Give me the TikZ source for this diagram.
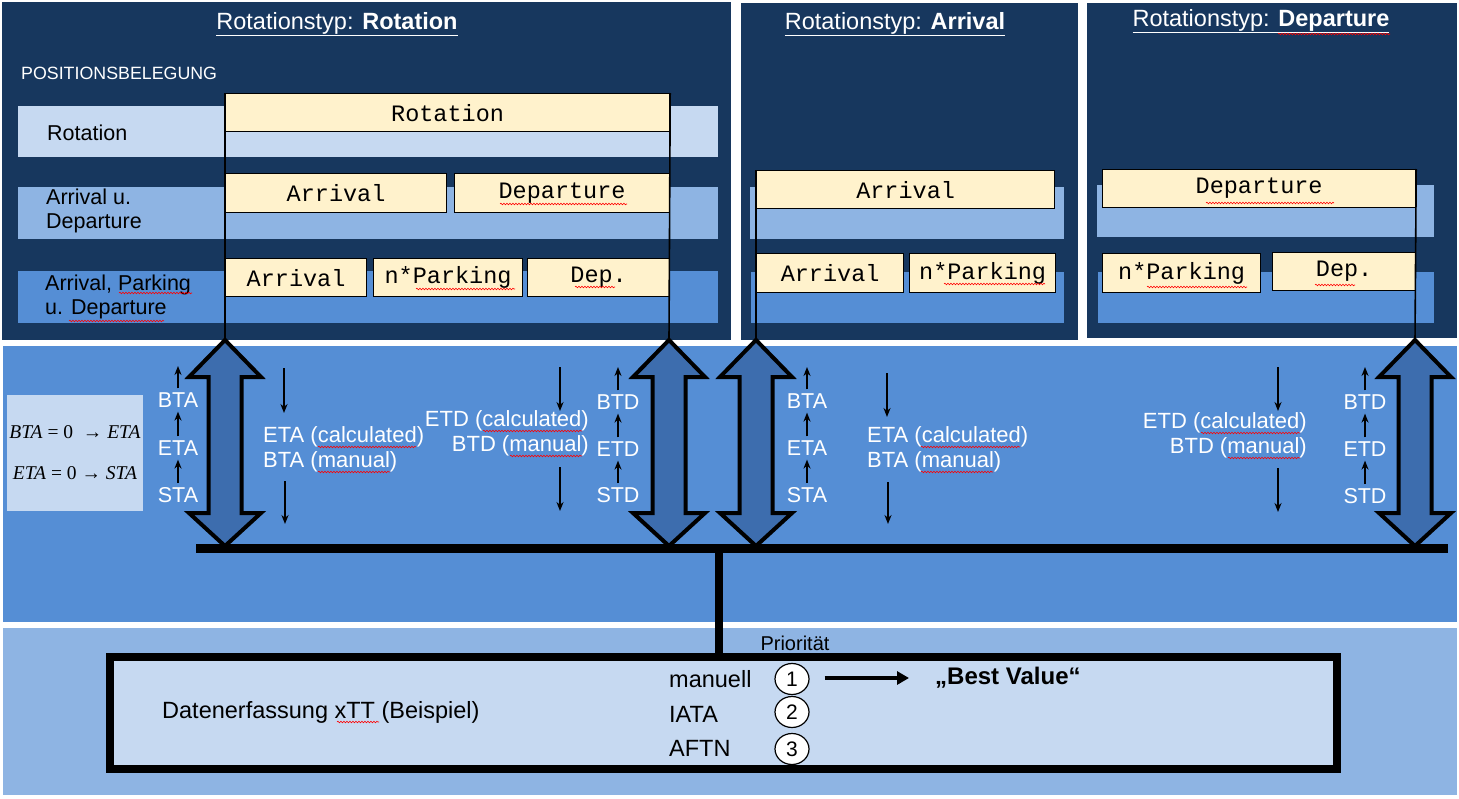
\documentclass[tikz,border=0pt]{standalone}
\usepackage{fontspec}
\setmainfont{Liberation Sans}
\newfontfamily\monof{Liberation Mono}
\newfontfamily\serf{Liberation Serif}
\usetikzlibrary{arrows.meta,shapes.geometric,decorations.pathmorphing,calc}
\definecolor{navy}{HTML}{17375E}
\definecolor{stripA}{HTML}{C6D9F1}
\definecolor{stripB}{HTML}{8EB4E3}
\definecolor{stripC}{HTML}{558ED5}
\definecolor{ylw}{HTML}{FFF2CC}
\definecolor{arrfill}{HTML}{3D6DAE}
\newcommand\dblarrow[2]{%
  \draw[dbl] (#1,340) -- ++(36,37) -- ++(-19.5,0) -- ++(0,136) -- ++(19.5,0) -- (#1,546)
     -- ++(-36,-33) -- ++(19.5,0) -- ++(0,-136) -- ++(-19.5,0) -- cycle;
  \coordinate (#2t) at (#1,340);}
\newcommand\spell[3]{\draw[spell] (#1,#3) -- (#2,#3);}
\begin{document}
\begin{tikzpicture}[x=1pt,y=-1pt,
  title/.style={text=white,font=\fontsize{23.5}{27}\selectfont,inner sep=0},
  rowlbl/.style={anchor=west,align=left,font=\fontsize{21.5}{24}\selectfont,inner sep=0},
  ybox/.style={draw,line width=1.2pt,fill=ylw,font=\monof\fontsize{23.5}{25}\selectfont,inner sep=0,anchor=north west},
  vline/.style={line width=1.6pt},
  dbl/.style={fill=arrfill,draw=black,line width=4pt,line join=miter},
  wtxt/.style={text=white,font=\fontsize{21.5}{25}\selectfont,inner sep=4pt},
  blk/.style={text=white,font=\fontsize{22}{25}\selectfont,inner sep=0},
  upar/.style={-{Stealth[length=9pt,width=7pt]},line width=1.5pt},
  spell/.style={red,line width=0.6pt,decorate,decoration={snake,segment length=3pt,amplitude=0.8pt}},
  btxt/.style={font=\fontsize{23.5}{27}\selectfont,inner sep=0}]
\fill[white] (0,0) rectangle (1459,798);
\useasboundingbox (0,0) rectangle (1459,798);
% panels and bands
\fill[navy] (2,2) rectangle (731,340);
\fill[navy] (741,3) rectangle (1078,340);
\fill[navy] (1087,3) rectangle (1457,338);
\fill[stripC] (3,346) rectangle (1457,622);
\fill[stripB] (3,628) rectangle (1457,795);
% strips
\fill[stripA] (18,106) rectangle (718,157);
\fill[stripB] (18,187) rectangle (718,239);
\fill[stripC] (18,271) rectangle (718,323);
\fill[stripB] (750,187) rectangle (1064,239);
\fill[stripC] (751,272) rectangle (1064,323);
\fill[stripB] (1097,185) rectangle (1434,237);
\fill[stripC] (1098,272) rectangle (1434,323);
% titles
\node[title] (t1) at (337,24) {\underline{Rotationstyp: \textbf{Rotation}}};
\node[title] (t2) at (895,24) {\underline{Rotationstyp: \textbf{Arrival}}};
\node[title] (t3) at (1261,21) {\underline{Rotationstyp: \textbf{Departure}}};
\node[anchor=west,text=white,font=\fontsize{17.8}{20}\selectfont,inner sep=0] (pb) at (21,73) {POSITIONSBELEGUNG};
% row labels
\node[rowlbl] (l1) at (47,133) {Rotation};
\node[rowlbl] (l2) at (46,211) {Arrival u.\\Departure};
\node[rowlbl] (l3) at (45,297) {Arrival, Parking\\u. Departure};
% boxes panel 1
\node[ybox,minimum width=444pt,minimum height=38pt] (b1) at (225,93) {Rotation};
\node[ybox,minimum width=221pt,minimum height=39pt] (b2) at (225,173) {Arrival};
\node[ybox,minimum width=215pt,minimum height=39pt] (b3) at (454,173) {Departure};
\node[ybox,minimum width=141pt,minimum height=38pt] (b4) at (225,258) {Arrival};
\node[ybox,minimum width=149pt,minimum height=38pt] (b5) at (373,258) {n*Parking};
\node[ybox,minimum width=142pt,minimum height=38pt] (b6) at (527,258) {Dep.};
% boxes panel 2
\node[ybox,minimum width=298pt,minimum height=38pt] (c1b) at (756,170) {Arrival};
\node[ybox,minimum width=147pt,minimum height=39pt] (c2b) at (756,253) {Arrival};
\node[ybox,minimum width=146pt,minimum height=39pt] (c3b) at (909,253) {n*Parking};
% boxes panel 3
\node[ybox,minimum width=313pt,minimum height=38pt] (d1b) at (1102,169) {Departure};
\node[ybox,minimum width=158pt,minimum height=39pt] (d2b) at (1102,253) {n*Parking};
\node[ybox,minimum width=143pt,minimum height=38pt] (d3b) at (1272,252) {Dep.};
% double arrows
\dblarrow{225}{a1}
\dblarrow{669}{a2}
\dblarrow{756}{a3}
\dblarrow{1415}{a4}
\draw[vline] (b1.north west) -- (a1t);
\draw[vline] (b1.north east) -- (a2t);
\draw[vline] (c1b.north west) -- (a3t);
\draw[vline] (d1b.north east) -- (a4t);
% bar and stem
\coordinate (barL) at (196,548.5);
\coordinate (barR) at (1448,548.5);
\coordinate (stemtop) at (719,548.5);
\draw[line width=8.5pt] (barL) -- (barR);
% formula box
\fill[stripA] (7,395) rectangle (143,511);
\node[font=\serf\fontsize{19.5}{22}\selectfont,inner sep=0] (f1) at (75,432) {\textit{BTA} = 0 \ → \textit{ETA}};
\node[font=\serf\fontsize{19.5}{22}\selectfont,inner sep=0] (f2) at (75,473) {\textit{ETA} = 0 → \textit{STA}};
% column 1
\node[wtxt] (bta1) at (178,400) {BTA};
\node[wtxt] (eta1) at (178,448) {ETA};
\node[wtxt] (sta1) at (178,495) {STA};
\coordinate (top1) at (178,366);
\draw[upar] (sta1) -- (eta1);
\draw[upar] (eta1) -- (bta1);
\draw[upar] (bta1) -- (top1);
% column 2
\node[wtxt] (btd2) at (618,402) {BTD};
\node[wtxt] (etd2) at (618,449) {ETD};
\node[wtxt] (std2) at (618,495) {STD};
\coordinate (top2) at (618,367);
\draw[upar] (std2) -- (etd2);
\draw[upar] (etd2) -- (btd2);
\draw[upar] (btd2) -- (top2);
% column 3
\node[wtxt] (bta3) at (807,401) {BTA};
\node[wtxt] (eta3) at (807,448) {ETA};
\node[wtxt] (sta3) at (807,495) {STA};
\coordinate (top3) at (807,367);
\draw[upar] (sta3) -- (eta3);
\draw[upar] (eta3) -- (bta3);
\draw[upar] (bta3) -- (top3);
% column 4
\node[wtxt] (btd4) at (1365,402) {BTD};
\node[wtxt] (etd4) at (1365,449) {ETD};
\node[wtxt] (std4) at (1365,496) {STD};
\coordinate (top4) at (1365,367);
\draw[upar] (std4) -- (etd4);
\draw[upar] (etd4) -- (btd4);
\draw[upar] (btd4) -- (top4);
% text blocks
\node[blk,anchor=west,align=left] (tx1) at (263,449.5) {ETA (calculated)\\BTA (manual)};
\node[blk,anchor=east,align=right] (tx2) at (589,433.5) {ETD (calculated)\\BTD (manual)};
\node[blk,anchor=west,align=left] (tx3) at (867,449.5) {ETA (calculated)\\BTA (manual)};
\node[blk,anchor=east,align=right] (tx4) at (1307,435) {ETD (calculated)\\BTD (manual)};
% down arrows
\coordinate (p1a) at (284,368); \coordinate (p1b) at (284,413);
\coordinate (p1c) at (285,481); \coordinate (p1d) at (285,524);
\coordinate (p2a) at (560,367); \coordinate (p2b) at (560,411);
\coordinate (p2c) at (560,467); \coordinate (p2d) at (560,511);
\coordinate (p3a) at (887,373); \coordinate (p3b) at (887,417);
\coordinate (p3c) at (888,482); \coordinate (p3d) at (888,524);
\coordinate (p4a) at (1278,367); \coordinate (p4b) at (1278,411);
\coordinate (p4c) at (1278,468); \coordinate (p4d) at (1278,512);
\foreach \n in {1,2,3,4}{\draw[upar] (p\n a) -- (p\n b); \draw[upar] (p\n c) -- (p\n d);}
% bottom box
\node[draw,line width=8pt,fill=stripA,minimum width=1227pt,minimum height=112pt,inner sep=0] (dbox) at (723.5,713) {};
\draw[line width=8pt] (stemtop) -- (stemtop |- dbox.north);
\node[font=\fontsize{20}{22}\selectfont,inner sep=0] (prio) at (795,643) {Priorität};
\node[btxt,anchor=west] (dat) at (162,712) {Datenerfassung xTT (Beispiel)};
\node[btxt,anchor=west] (m1) at (669,679) {manuell};
\node[btxt,anchor=west] (m2) at (669,714) {IATA};
\node[btxt,anchor=west] (m3) at (669,748) {AFTN};
\node[ellipse,draw,fill=white,line width=1.2pt,minimum width=34pt,minimum height=31pt,inner sep=0,font=\fontsize{21}{23}\selectfont] (c1) at (792,679) {1};
\node[ellipse,draw,fill=white,line width=1.2pt,minimum width=34pt,minimum height=31pt,inner sep=0,font=\fontsize{21}{23}\selectfont] (c2) at (792,712) {2};
\node[ellipse,draw,fill=white,line width=1.2pt,minimum width=34pt,minimum height=31pt,inner sep=0,font=\fontsize{21}{23}\selectfont] (c3) at (792,749) {3};
\node[font=\bfseries\fontsize{24}{28}\selectfont,inner sep=0,anchor=west] (bv) at (935,678) {„Best Value“};
\draw[line width=4.5pt,-{Triangle[length=12pt,width=13pt]}] (c1.east |- bv.west) ++(15,0) -- ($(bv.west)+(-26,0)$);
% spell-check underlines
\spell{119}{192}{293}
\spell{69}{164}{321}
\spell{500}{627}{204}
\spell{416}{515}{289}
\spell{575}{615}{287}
\spell{1278}{1390}{34}
\spell{944}{1045}{284}
\spell{1206}{1334}{203}
\spell{1147}{1247}{287}
\spell{1315}{1355}{285}
\spell{318}{416}{447}
\spell{318}{390}{472}
\spell{483}{582}{431}
\spell{510}{582}{456}
\spell{921}{1020}{447}
\spell{921}{993}{472}
\spell{1201}{1300}{433}
\spell{1228}{1300}{458}
\spell{337}{379}{722}
\end{tikzpicture}
\end{document}
